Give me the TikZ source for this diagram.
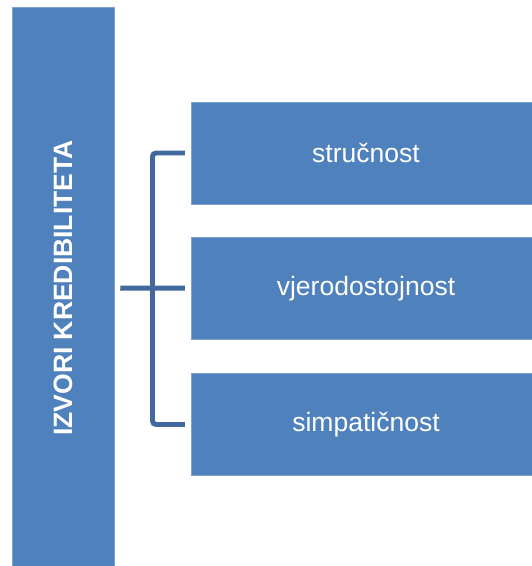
\documentclass[tikz,border=0pt]{standalone}
\usepackage{fontspec}
\setmainfont{Liberation Sans}
\usepackage{tikz}
\usetikzlibrary{calc}
\definecolor{boxblue}{HTML}{4F81BD}
\definecolor{edgeblue}{HTML}{7FA3D0}
\definecolor{linkblue}{HTML}{41699E}
\tikzset{every picture/.style={>=stealth},label/.style={font=\fontsize{15.1}{18}\selectfont}}

\begin{document}
\begin{tikzpicture}[x=0.02cm,y=-0.02cm,
  part/.style={fill=boxblue,draw=edgeblue,line width=0.3pt,text=white,inner sep=0pt,
    minimum width=7cm,minimum height=2.05cm,label},
  bracket/.style={draw=linkblue,line width=2.8pt,rounded corners=2pt,
    shorten <=0.12cm,shorten >=0.12cm}]
  \clip (0,0) rectangle (532,566);
  \node (bar) [fill=boxblue,draw=edgeblue,line width=0.3pt,inner sep=0pt,
    minimum width=2.04cm,minimum height=11.24cm] at (63,288) {};
  \node [rotate=90,text=white,label,font=\fontsize{15.1}{18}\selectfont\bfseries] at (bar.center) {IZVORI KREDIBILITETA};
  \node (s1) [part] at (366,153) {stručnost};
  \node (s2) [part] at (366,288.5) {vjerodostojnost};
  \node (s3) [part] at (366,424.5) {simpatičnost};
  \coordinate (spine) at (152.5,288.5);
  \draw [bracket] (s1.west) -| (spine) |- (s3.west);
  \draw [bracket] (bar) -- (s2);
\end{tikzpicture}
\end{document}
